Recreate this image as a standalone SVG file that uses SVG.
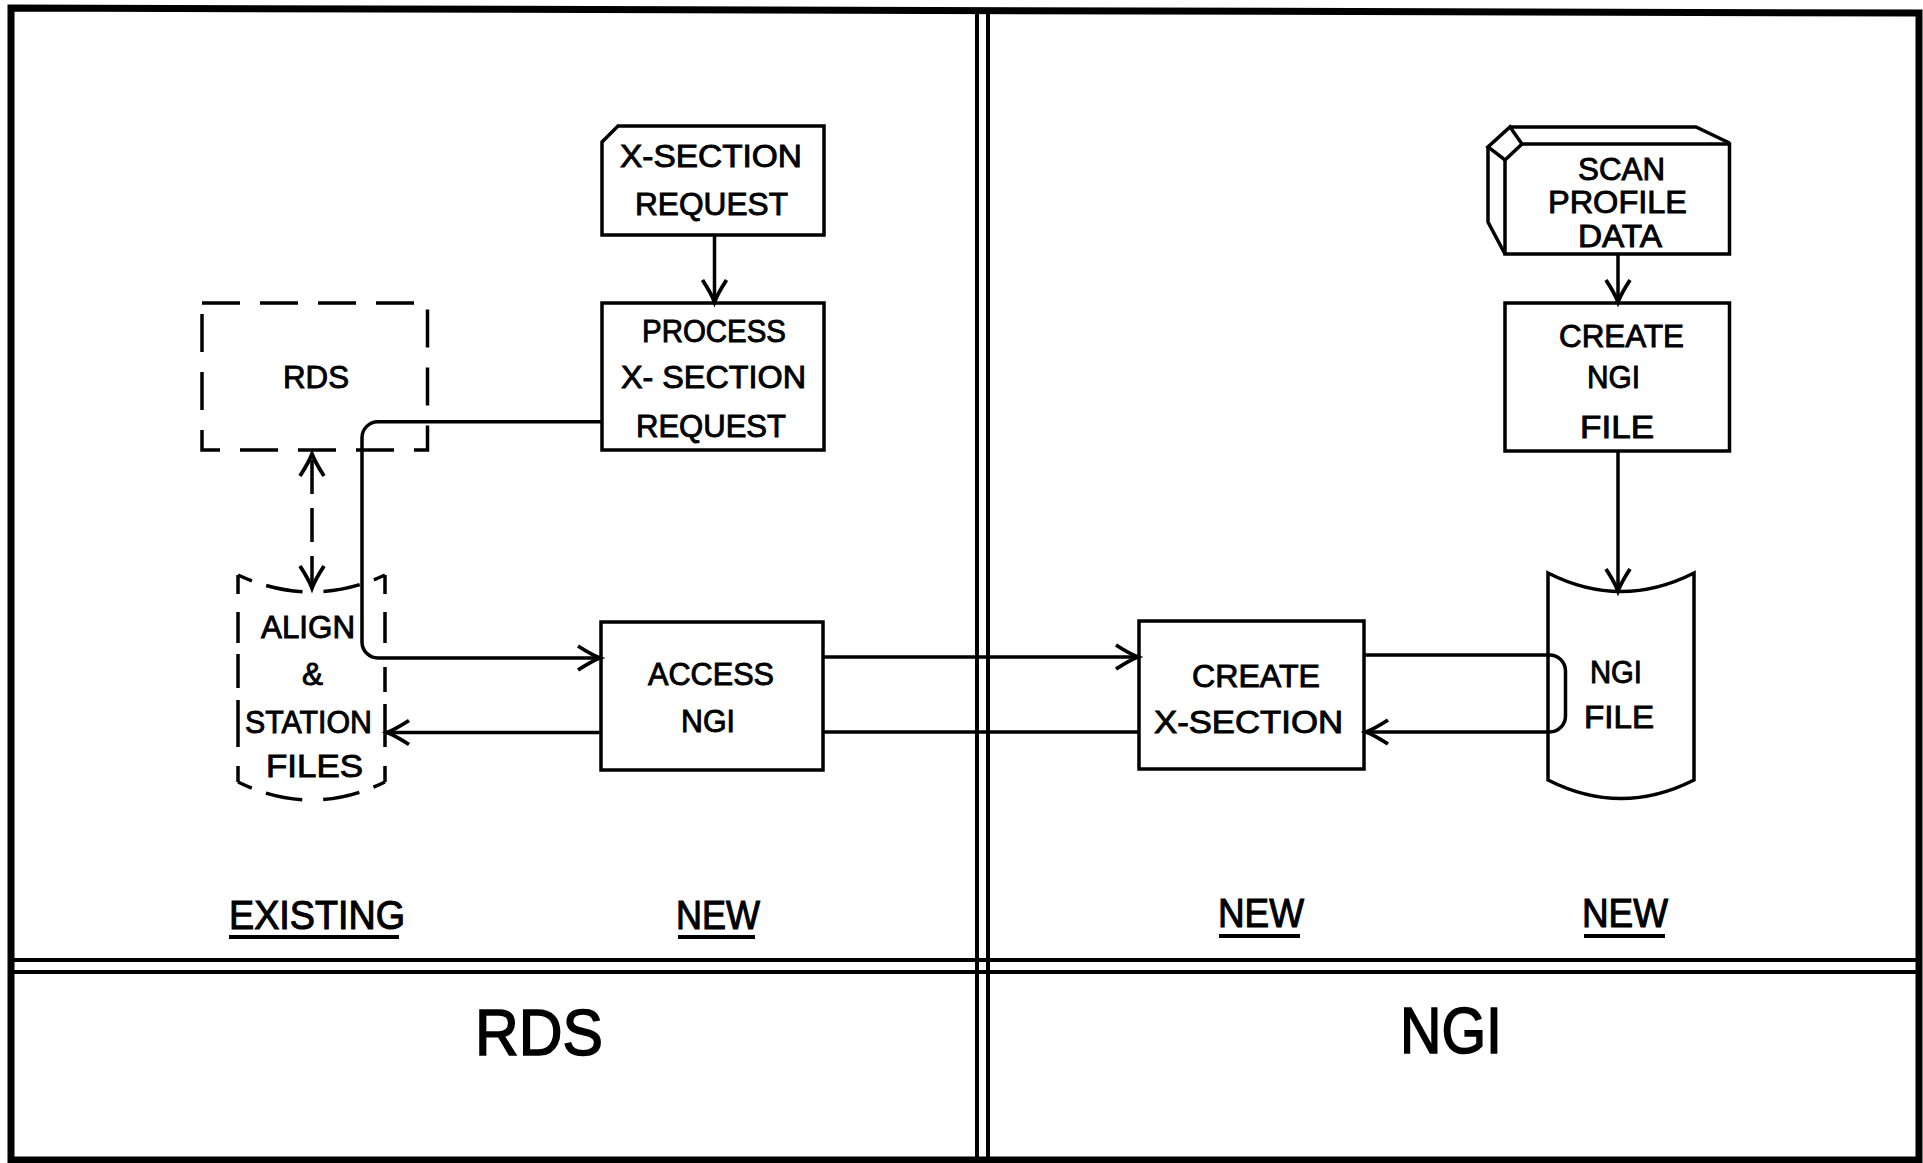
<svg xmlns="http://www.w3.org/2000/svg" width="1923" height="1163" viewBox="0 0 1923 1163">
<style>
.s{fill:none;stroke:#000;stroke-width:3.5;stroke-linejoin:miter}
.d{fill:none;stroke:#000;stroke-width:3.5;stroke-dasharray:38 20}
.c{fill:none;stroke:#000;stroke-width:3.5}
.f{fill:none;stroke:#000;stroke-width:4}
.t{font-family:"Liberation Sans",Arial,sans-serif;font-size:31px;fill:#000;stroke:#000;stroke-width:0.9}
.l{font-family:"Liberation Sans",Arial,sans-serif;font-size:40px;fill:#000;stroke:#000;stroke-width:1.1}
.b{font-family:"Liberation Sans",Arial,sans-serif;font-size:65px;fill:#000;stroke:#000;stroke-width:1.6}
</style>
<defs>
<marker id="ah" viewBox="-26 -15 32 30" refX="0" refY="0" markerWidth="32" markerHeight="30" markerUnits="userSpaceOnUse" orient="auto-start-reverse">
<path d="M-22,-12 Q-8,-3 0,0 Q-8,3 -22,12" fill="none" stroke="#000" stroke-width="3.8"/>
</marker>
</defs>
<rect width="1923" height="1163" fill="#fff"/>
<g id="frame">
<path d="M11,8 L1919,13 L1919,1160 L11,1160 Z" fill="none" stroke="#000" stroke-width="7"/>
<line x1="977" y1="10" x2="977" y2="1160" class="f"/>
<line x1="988" y1="10" x2="988" y2="1160" class="f"/>
<line x1="11" y1="960" x2="1919" y2="960" class="f"/>
<line x1="11" y1="972" x2="1919" y2="972" class="f"/>
</g>
<g id="connectors">
<line x1="714.5" y1="235" x2="714.5" y2="302" class="c" marker-end="url(#ah)"/>
<path d="M602,421.7 H378 A16,16 0 0 0 362,437.7 V642 A16,16 0 0 0 378,658 H600" class="c" marker-end="url(#ah)"/>
<line x1="823" y1="657" x2="1138" y2="657" class="c" marker-end="url(#ah)"/>
<line x1="1139" y1="732" x2="823" y2="732" class="c"/>
<line x1="601" y1="732.5" x2="387" y2="732.5" class="c" marker-end="url(#ah)"/>
<path d="M1364,655 H1549 A16,16 0 0 1 1565.5,671 V716 A16,16 0 0 1 1549.5,732 H1366" class="c" marker-end="url(#ah)"/>
<line x1="1618" y1="254" x2="1618" y2="302" class="c" marker-end="url(#ah)"/>
<line x1="1618" y1="451" x2="1618" y2="591" class="c" marker-end="url(#ah)"/>
<line x1="312" y1="454" x2="312" y2="588" fill="none" stroke="#000" stroke-width="3.5" stroke-dasharray="34 14" stroke-dashoffset="-6" marker-start="url(#ah)" marker-end="url(#ah)"/>
</g>
<g id="xsection-request">
<path d="M618,126 H824 V235 H602 V142 Z" class="s"/>
<text class="t" x="620" y="167" textLength="182" lengthAdjust="spacingAndGlyphs">X-SECTION</text>
<text class="t" x="635" y="215" textLength="153" lengthAdjust="spacingAndGlyphs">REQUEST</text>
</g>
<g id="process">
<rect x="602" y="303" width="222" height="147" class="s"/>
<text class="t" x="642" y="342" textLength="144" lengthAdjust="spacingAndGlyphs">PROCESS</text>
<text class="t" x="621" y="388" textLength="185" lengthAdjust="spacingAndGlyphs">X- SECTION</text>
<text class="t" x="636" y="437" textLength="150" lengthAdjust="spacingAndGlyphs">REQUEST</text>
</g>
<g id="rds">
<rect x="202" y="303" width="225.5" height="147" class="d"/>
<text class="t" x="283" y="388" textLength="66" lengthAdjust="spacingAndGlyphs">RDS</text>
</g>
<g id="align-files">
<path d="M238,575 V594 M238,612 V643 M238,654 V688 M238,700 V747 M238,766 V782 M385,575 V594 M385,612 V643 M385,667 V692 M385,704 V747 M385,766 V782" class="c"/>
<path d="M238,575 Q311.5,609 385,575" fill="none" stroke="#000" stroke-width="3.5" stroke-dasharray="15 15 37 21 37 15 15"/>
<path d="M238,782 Q311.5,818 385,782" fill="none" stroke="#000" stroke-width="3.5" stroke-dasharray="15 15 37 21 37 15 15"/>
<text class="t" x="261" y="638" textLength="94" lengthAdjust="spacingAndGlyphs">ALIGN</text>
<text class="t" x="302" y="685" textLength="21" lengthAdjust="spacingAndGlyphs">&amp;</text>
<text class="t" x="245" y="733" textLength="127" lengthAdjust="spacingAndGlyphs">STATION</text>
<text class="t" x="266" y="777" textLength="97" lengthAdjust="spacingAndGlyphs">FILES</text>
</g>
<g id="access-ngi">
<rect x="601" y="622" width="222" height="148" class="s"/>
<text class="t" x="648" y="685" textLength="126" lengthAdjust="spacingAndGlyphs">ACCESS</text>
<text class="t" x="681" y="732" textLength="54" lengthAdjust="spacingAndGlyphs">NGI</text>
</g>
<g id="scan-profile-data">
<path d="M1510,127 L1522,144 L1505,160 L1488,147 Z" class="s"/>
<path d="M1510,127 H1696 L1729.5,143" class="s"/>
<path d="M1522,144 H1729.5 V254 H1505 V160" class="s"/>
<path d="M1488,147 V222 L1505,254" class="s"/>
<text class="t" x="1578" y="180" textLength="87" lengthAdjust="spacingAndGlyphs">SCAN</text>
<text class="t" x="1548" y="213" textLength="139" lengthAdjust="spacingAndGlyphs">PROFILE</text>
<text class="t" x="1578" y="247" textLength="84" lengthAdjust="spacingAndGlyphs">DATA</text>
</g>
<g id="create-ngi-file">
<rect x="1505" y="303" width="224.5" height="148" class="s"/>
<text class="t" x="1559" y="347" textLength="125" lengthAdjust="spacingAndGlyphs">CREATE</text>
<text class="t" x="1587" y="388" textLength="53" lengthAdjust="spacingAndGlyphs">NGI</text>
<text class="t" x="1580" y="438" textLength="74" lengthAdjust="spacingAndGlyphs">FILE</text>
</g>
<g id="ngi-file">
<path d="M1548,573 Q1621,610 1694,573 V780 Q1621,817 1548,780 Z" class="s"/>
<text class="t" x="1590" y="683" textLength="52" lengthAdjust="spacingAndGlyphs">NGI</text>
<text class="t" x="1584" y="728" textLength="70" lengthAdjust="spacingAndGlyphs">FILE</text>
</g>
<g id="create-xsection">
<rect x="1139" y="621" width="225" height="148" class="s"/>
<text class="t" x="1192" y="687" textLength="128" lengthAdjust="spacingAndGlyphs">CREATE</text>
<text class="t" x="1154" y="733" textLength="189" lengthAdjust="spacingAndGlyphs">X-SECTION</text>
</g>
<g id="legend">
<text class="l" x="229" y="929" textLength="176" lengthAdjust="spacingAndGlyphs">EXISTING</text>
<line x1="229" y1="937" x2="399" y2="937" class="f"/>
<text class="l" x="676" y="929" textLength="84" lengthAdjust="spacingAndGlyphs">NEW</text>
<line x1="678" y1="937" x2="755" y2="937" class="f"/>
<text class="l" x="1218" y="927" textLength="86" lengthAdjust="spacingAndGlyphs">NEW</text>
<line x1="1219" y1="936" x2="1300" y2="936" class="f"/>
<text class="l" x="1582" y="927" textLength="86" lengthAdjust="spacingAndGlyphs">NEW</text>
<line x1="1584" y1="936" x2="1665" y2="936" class="f"/>
</g>
<g id="titles">
<text class="b" x="475" y="1055" textLength="128" lengthAdjust="spacingAndGlyphs">RDS</text>
<text class="b" x="1400" y="1053" textLength="102" lengthAdjust="spacingAndGlyphs">NGI</text>
</g>
</svg>
